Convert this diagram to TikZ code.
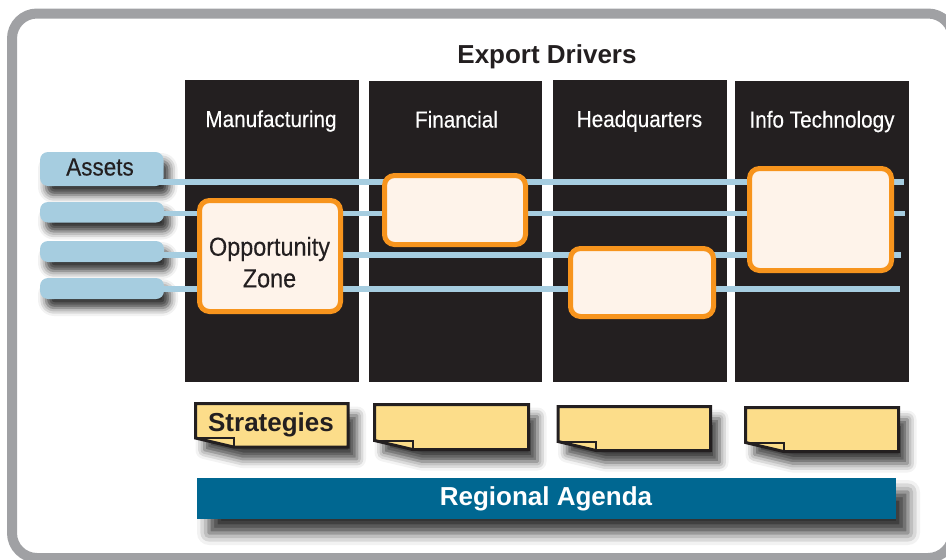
\documentclass[tikz,border=0pt]{standalone}
\usepackage{fontspec}
\setmainfont{Liberation Sans}
\newfontfamily\narrowfont[FakeStretch=0.9,FakeBold=0.35]{Liberation Sans}
\usetikzlibrary{shadows.blur}
\definecolor{framegray}{HTML}{A0A1A4}
\definecolor{colblack}{HTML}{231F20}
\definecolor{lblue}{HTML}{A6CDE0}
\definecolor{orng}{HTML}{F7941D}
\definecolor{oboxfill}{HTML}{FEF3EA}
\definecolor{noteyellow}{HTML}{FCDD8A}
\definecolor{teal}{HTML}{006791}
\newcommand\mynote[4]{% L T R B
  \filldraw[notebox] (#1,#2) -- (#3,#2) -- (#3,#4) -- (#1+38,#4) -- (#1,#4-9) -- cycle;
  \draw[notefold] (#1,#4-9) -- (#1+38,#4-9) -- (#1+38,#4);
}
\begin{document}
\begin{tikzpicture}[x=1pt,y=-1pt,
  colbox/.style={fill=colblack, draw=none, inner sep=0pt, rectangle},
  hdr/.style={text=white, font=\narrowfont\fontsize{23}{23}\selectfont, anchor=base, inner sep=0pt},
  pill/.style={fill=lblue, draw=none, inner sep=0pt, rectangle, rounded corners=8pt,
    blur shadow={shadow xshift=6pt, shadow yshift=-9pt, shadow blur radius=8pt, shadow opacity=80}},
  lane/.style={draw=lblue, line width=5.5pt},
  obox/.style={draw=orng, fill=oboxfill, line width=5pt, rounded corners=10pt, inner sep=0pt, rectangle},
  notebox/.style={fill=noteyellow, draw=colblack, line width=3pt, line join=miter,
    blur shadow={shadow xshift=9pt, shadow yshift=-12pt, shadow blur radius=9pt, shadow opacity=75}},
  notefold/.style={draw=colblack, line width=2pt, line join=miter},
  darktext/.style={text=colblack, anchor=base, inner sep=0pt},
]
\useasboundingbox (0,0) rectangle (946,560);
% frame
\draw[framegray, line width=10pt, rounded corners=25pt] (12,13.5) rectangle (953,558);
% title
\node[darktext, font=\bfseries\fontsize{26}{26}\selectfont] (title) at (547,63.3) {Export Drivers};
% columns
\node[colbox, minimum width=174pt, minimum height=302pt] (c1) at (272,231) {};
\node[colbox, minimum width=173pt, minimum height=301pt] (c2) at (455.5,231.5) {};
\node[colbox, minimum width=174pt, minimum height=302pt] (c3) at (640,231) {};
\node[colbox, minimum width=174pt, minimum height=301pt] (c4) at (822,231.5) {};
\node[hdr] (h1) at (271,127) {Manufacturing};
\node[hdr] (h2) at (456.5,127.5) {Financial};
\node[hdr] (h3) at (639.5,127) {Headquarters};
\node[hdr] (h4) at (822,127.5) {Info Technology};
% pills
\node[pill, minimum width=123.5pt, minimum height=34pt] (p1) at (101.75,169) {};
\node[pill, minimum width=124pt, minimum height=20.5pt] (p2) at (102,212.25) {};
\node[pill, minimum width=124pt, minimum height=21pt] (p3) at (102,251.5) {};
\node[pill, minimum width=124pt, minimum height=21pt] (p4) at (102,288.5) {};
\node[darktext, font=\narrowfont\fontsize{25}{25}\selectfont] (assets) at (100,175.5) {Assets};
% lanes
\coordinate (e1) at (904,182);
\coordinate (e2) at (905,213.5);
\coordinate (e3) at (901,255);
\coordinate (e4) at (900,289);
\draw[lane] ([xshift=-8pt]p1.east |- e1) -- (e1);
\draw[lane] ([xshift=-8pt]p2.east |- e2) -- (e2);
\draw[lane] ([xshift=-8pt]p3.east |- e3) -- (e3);
\draw[lane] ([xshift=-8pt]p4.east |- e4) -- (e4);
% orange boxes
\node[obox, minimum width=141pt, minimum height=111pt] (oz) at (270,256) {};
\node[obox, minimum width=141pt, minimum height=69pt] (fin) at (455,210) {};
\node[obox, minimum width=143pt, minimum height=68pt] (hq) at (642,282.5) {};
\node[obox, minimum width=142pt, minimum height=102pt] (it) at (820.5,219.5) {};
\node[darktext, font=\narrowfont\fontsize{26}{26}\selectfont] (oz1) at (269.5,255.7) {Opportunity};
\node[darktext, font=\narrowfont\fontsize{26}{26}\selectfont] (oz2) at (269.5,287.3) {Zone};
% notes
\mynote{195.5}{403.5}{348}{447}
\mynote{374.5}{404.5}{528.5}{449.5}
\mynote{558}{406.5}{710.5}{450.5}
\mynote{745.5}{407.5}{898.5}{451.5}
\node[darktext, font=\bfseries\fontsize{26}{26}\selectfont] (strat) at (271,431) {Strategies};
% agenda
\node[rectangle, fill=teal, inner sep=0pt, minimum width=699pt, minimum height=41pt,
  blur shadow={shadow xshift=12pt, shadow yshift=-14pt, shadow blur radius=12pt, shadow opacity=80}] (agenda) at (546.5,498.5) {};
\node[anchor=base, inner sep=0pt, text=white, font=\bfseries\fontsize{26}{26}\selectfont] (agendaT) at (546,505) {Regional Agenda};
\end{tikzpicture}
\end{document}
